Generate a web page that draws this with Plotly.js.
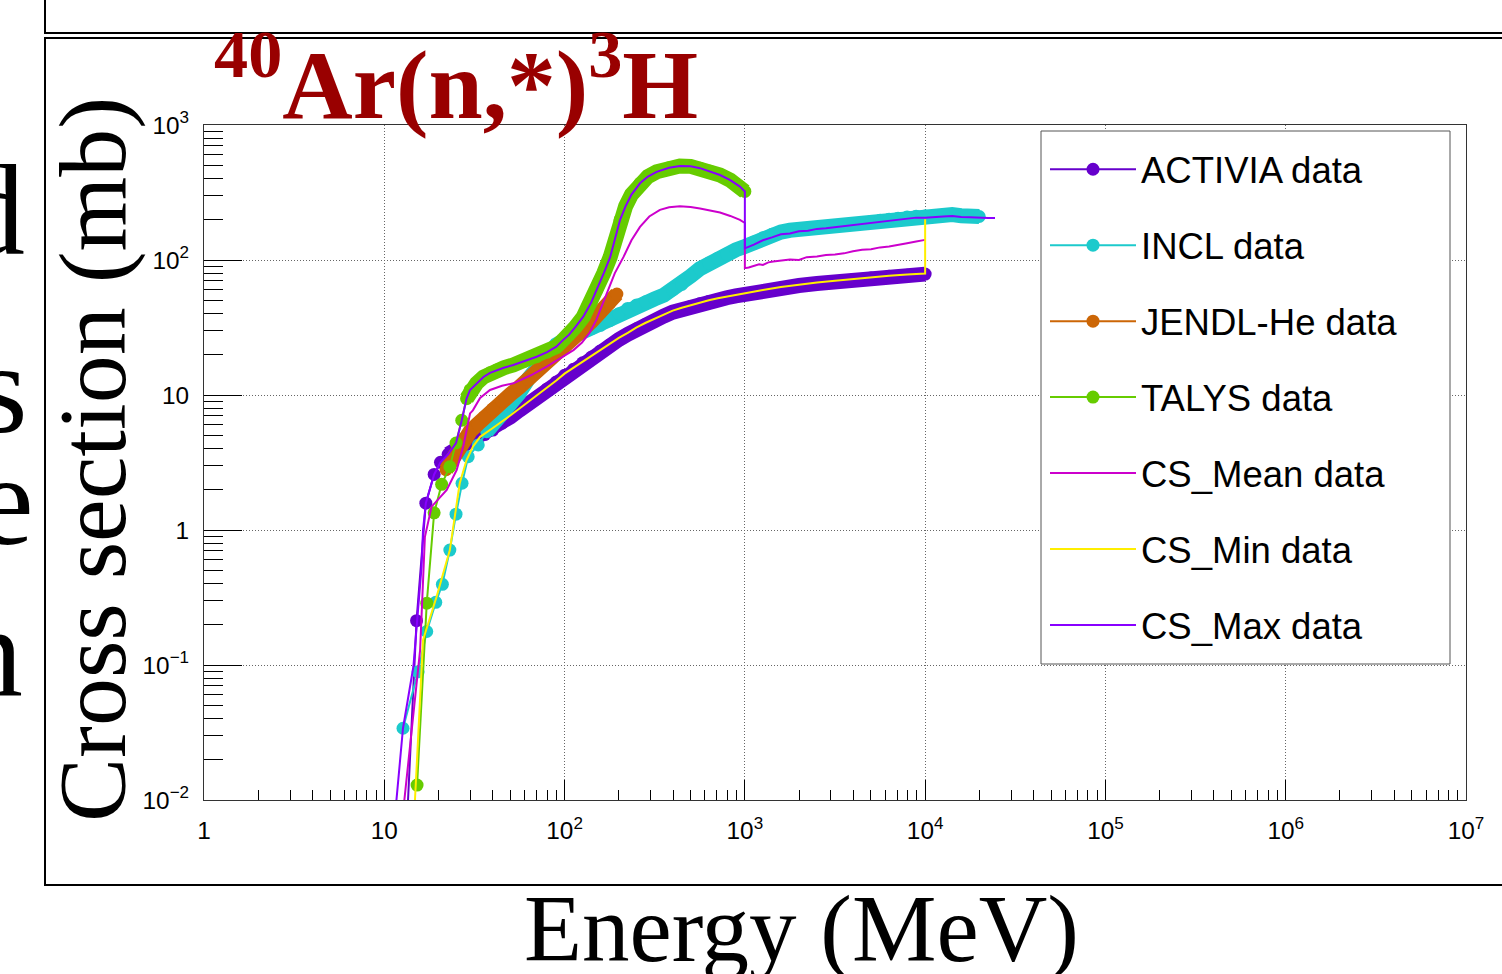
<!DOCTYPE html>
<html>
<head>
<meta charset="utf-8">
<script src="https://cdn.plot.ly/plotly-3.0.1.min.js"></script>
<style>
  html, body { margin: 0; padding: 0; background: #fff; }
  #chart { width: 1502px; height: 974px; }
</style>
</head>
<body>
<div id="chart"></div>
<script>
// ---------------- data ----------------
const activiaE  = [13.3, 15.1, 17.0, 18.9, 20.5, 22.6, 25, 28, 32, 36, 40, 45, 50, 56, 63, 71, 80, 90, 100, 112, 126, 141, 158, 178, 200, 224, 251, 282, 316, 355, 398, 447, 501, 562, 631, 708, 794, 891, 1000, 1259, 1585, 1995, 2512, 3162, 3981, 5012, 6310, 7943, 10000];
const activiaXS = [0.006, 0.213, 1.58, 2.58, 3.17, 3.64, 3.92, 4.25, 4.68, 5.09, 5.5, 6.19, 6.88, 7.7, 8.66, 9.76, 11.1, 12.5, 14.0, 15.5, 17.3, 19.1, 21.2, 23.5, 25.8, 28.2, 30.9, 33.4, 35.8, 38.4, 41.1, 43.2, 45.3, 47.4, 49.2, 50.9, 52.5, 54.2, 56.0, 58.9, 62.0, 64.7, 67.0, 69.4, 71.6, 73.6, 75.7, 77.2, 78.6];
const activiaDenseFrom = 5;

const inclE  = [12.7, 15.4, 17.2, 19.3, 21.0, 23.1, 25.0, 27.0, 29.2, 33.2, 37.0, 40, 45, 50, 56, 63, 71, 80, 90, 100, 112, 126, 141, 158, 178, 200, 224, 251, 282, 316, 355, 398, 447, 501, 562, 631, 708, 794, 891, 1000, 1122, 1259, 1413, 1585, 1778, 1995, 2239, 2512, 2818, 3162, 3548, 3981, 4467, 5012, 5623, 6310, 7079, 7943, 8913, 10000, 11220, 12589, 14125, 15849, 17783, 19953];
const inclXS = [0.034, 0.089, 0.177, 0.291, 0.396, 0.71, 1.31, 2.22, 3.49, 4.27, 5.35, 6.0, 7.1, 8.4, 10.3, 13.2, 16.5, 20.5, 23.5, 25.5, 27.5, 29.3, 31.0, 32.8, 35.5, 40.0, 43.8, 46.5, 49.0, 51.5, 55.0, 60.0, 66.0, 76.0, 86.0, 95.0, 103, 111, 119, 126, 136, 146, 155, 161, 166, 169, 171, 174, 177, 180, 183, 186, 189, 193, 197, 200, 204, 208, 211, 212, 213, 215, 217, 213, 211, 210];
const inclDenseFrom = 10;

const jendlE  = [22, 24, 26, 28, 30, 33, 36, 40, 45, 50, 56, 63, 71, 80, 90, 100, 112, 126, 141, 158, 178, 195];
const jendlXS = [2.8, 3.4, 4.1, 4.8, 5.4, 6.1, 6.9, 7.9, 9.0, 10.1, 11.4, 13.0, 15.0, 17.6, 20.4, 23.0, 26.5, 30.5, 35.0, 40.5, 48.0, 56.0];
const jendlDenseFrom = 0;

const talysE  = [15.2, 17.2, 18.9, 20.8, 23.1, 25.0, 26.9, 28.6, 29.9, 32.5, 35.5, 38.6, 42, 46, 52, 60, 70, 80, 90, 98, 106, 115, 127, 140, 151, 165, 179, 190, 203, 218, 235, 262, 290, 324, 380, 436, 500, 564, 640, 728, 830, 939, 1000];
const talysXS = [0.0129, 0.287, 1.34, 2.18, 2.94, 4.41, 6.5, 9.4, 10.9, 12.2, 13.6, 14.6, 15.3, 15.9, 16.7, 17.8, 19.2, 20.8, 22.8, 25.5, 28, 32, 38, 48, 60, 80, 105, 140, 198, 250, 305, 370, 415, 450, 482, 497, 494, 479, 455, 426, 390, 350, 322];
const talysDenseFrom = 7;

const meanE  = [12.7, 15.8, 16.8, 18.3, 22.2, 25.2, 27.4, 29.9, 31, 34, 38.6, 45, 52, 65, 79.6, 95, 112, 125, 138, 150, 160, 171, 190, 212, 235, 262, 295, 338, 380, 436, 500, 564, 640, 728, 830, 939, 1000, 1000, 1050, 1122, 1200, 1259, 1350, 1438, 1585, 1778, 1995, 2203, 2512, 2818, 3162, 3548, 3981, 4467, 5012, 5623, 6310, 7079, 7943, 8913, 10000];
const meanXS = [0.008, 0.129, 0.89, 1.49, 1.98, 2.78, 4.14, 7.3, 7.7, 9.5, 10.9, 11.7, 12.2, 14.0, 16.2, 18.8, 21.5, 24.5, 29, 36, 45, 57, 80, 105, 140, 176, 210, 235, 246, 250, 247, 241, 233, 225, 212, 198, 188, 87, 88, 90, 93, 92, 96, 97.5, 99, 101, 100, 105, 106, 109, 110, 112, 116, 119, 120, 124, 126, 129, 133, 137, 141];

const minE  = [14.6, 16.4, 19.5, 23.1, 26.2, 28.6, 31, 34, 40, 45, 50, 56, 63, 71, 80, 90, 100, 112, 126, 141, 158, 178, 200, 224, 251, 282, 316, 355, 398, 447, 501, 562, 631, 708, 794, 891, 1000, 1259, 1585, 1995, 2512, 3162, 3981, 5012, 6310, 7943, 10000, 10000];
const minXS = [0.007, 0.153, 0.32, 0.71, 2.22, 3.3, 4.14, 4.9, 5.7, 6.35, 7.05, 7.9, 8.9, 10.0, 11.4, 12.8, 14.4, 15.9, 17.7, 19.6, 21.7, 24.1, 26.5, 28.9, 31.7, 34.3, 36.8, 39.4, 42.2, 44.3, 46.4, 48.5, 50.3, 52.0, 53.6, 55.3, 57.1, 60.0, 63.0, 65.7, 68.0, 70.3, 72.5, 74.5, 76.6, 78.1, 79.4, 200];

const maxE  = [11.4, 12.7, 14.5, 16.1, 16.4, 17.0, 18.9, 20.5, 22.6, 25.0, 26.9, 28.6, 29.9, 32.5, 35.5, 38.6, 42, 46, 52, 60, 70, 80, 90, 98, 106, 115, 127, 140, 151, 165, 179, 190, 203, 218, 235, 262, 290, 324, 380, 436, 500, 564, 640, 728, 830, 939, 1000, 1000, 1122, 1259, 1413, 1585, 1778, 1995, 2239, 2512, 2818, 3162, 3548, 3981, 4467, 5012, 5623, 6310, 7079, 7943, 8913, 10000, 11220, 12589, 14125, 15849, 17783, 19953, 22387, 24400];
const maxXS = [0.007, 0.034, 0.097, 0.535, 1.0, 1.58, 2.58, 3.17, 3.64, 4.41, 6.5, 9.4, 10.9, 12.2, 13.6, 14.6, 15.3, 15.9, 16.7, 17.8, 19.2, 20.8, 22.8, 25.5, 28, 32, 38, 48, 60, 80, 105, 140, 198, 250, 305, 370, 415, 450, 482, 497, 494, 479, 455, 426, 390, 350, 322, 122, 130, 140, 147, 155, 157, 163, 165, 170, 172, 175, 179, 181, 185, 187, 192, 194, 199, 202, 206, 206, 209, 210, 212, 208, 207, 205, 205, 205];

const seriesNames = ['ACTIVIA data', 'INCL data', 'JENDL-He data', 'TALYS data', 'CS_Mean data', 'CS_Min data', 'CS_Max data'];
const titleText = '<b><sup>40</sup>Ar(n,*)<sup>3</sup>H</b>';
const xTitleText = 'Energy (MeV)';
const yTitleText = 'Cross section (mb)';
const edgeLetters = ['d', 's', 'e', 'n'];

// ---------------- styling ----------------
const colors = {
  activia: '#6600cc', incl: '#1ccacc', jendl: '#cc6606', talys: '#66cc00',
  mean: '#cc00cc', min: '#ffee00', max: '#8800ff'
};
const W = 1502, H = 974;
const M = { l: 204, r: 36, t: 125, b: 174 };
const PW = W - M.l - M.r, PH = H - M.t - M.b;
const px = x => (x - M.l) / PW;          // page pixel -> paper x
const py = y => (H - M.b - y) / PH;      // page pixel -> paper y

const MS = 13;   // marker size
const BAND = 15; // width of the dense-marker band
function band(E, XS, from, color) {
  return { x: E.slice(from), y: XS.slice(from), mode: 'lines', type: 'scatter',
           line: { color: color, width: BAND }, showlegend: false, hoverinfo: 'skip' };
}
function markerSeries(E, XS, name, color, grp) {
  return { x: E, y: XS, name: name, mode: 'lines+markers', type: 'scatter', legendgroup: grp,
           line: { color: color, width: 2 }, marker: { color: color, size: MS } };
}
function lineSeries(E, XS, name, color, grp) {
  return { x: E, y: XS, name: name, mode: 'lines', type: 'scatter', legendgroup: grp,
           line: { color: color, width: 2 } };
}

const traces = [
  band(activiaE, activiaXS, activiaDenseFrom, colors.activia),
  markerSeries(activiaE, activiaXS, seriesNames[0], colors.activia, 'g1'),
  band(inclE, inclXS, inclDenseFrom, colors.incl),
  markerSeries(inclE, inclXS, seriesNames[1], colors.incl, 'g2'),
  band(jendlE, jendlXS, jendlDenseFrom, colors.jendl),
  markerSeries(jendlE, jendlXS, seriesNames[2], colors.jendl, 'g3'),
  band(talysE, talysXS, talysDenseFrom, colors.talys),
  markerSeries(talysE, talysXS, seriesNames[3], colors.talys, 'g4'),
  lineSeries(meanE, meanXS, seriesNames[4], colors.mean, 'g5'),
  lineSeries(minE, minXS, seriesNames[5], colors.min, 'g6'),
  lineSeries(maxE, maxXS, seriesNames[6], colors.max, 'g7')
];

const tickFont = { family: 'Liberation Sans, Arial, sans-serif', size: 19.5, color: '#000' };
const serif = 'Liberation Serif, Times New Roman, serif';

const letterPos = [[27, 210], [30, 388], [36, 500], [25, 652]];
const letterAnn = edgeLetters.map((t, i) => ({
  text: t, xref: 'paper', yref: 'paper', x: px(letterPos[i][0]), y: py(letterPos[i][1]),
  xanchor: 'right', yanchor: 'middle', showarrow: false, height: 108, valign: 'middle',
  font: { family: serif, size: 130, color: '#000' }
}));

const layout = {
  width: W, height: H,
  margin: M,
  paper_bgcolor: '#fff', plot_bgcolor: '#fff',
  showlegend: true,
  font: { family: 'Liberation Sans, Arial, sans-serif', color: '#000' },
  xaxis: {
    type: 'log', range: [0, 7], dtick: 1, exponentformat: 'power',
    ticks: 'inside', ticklen: 20, tickwidth: 1, tickcolor: '#000',
    minor: { ticks: 'inside', ticklen: 10, tickwidth: 1, tickcolor: '#000', dtick: 'D1', showgrid: false },
    showgrid: true, gridcolor: '#666', griddash: '1px,2px', gridwidth: 1,
    showline: true, linecolor: '#333', linewidth: 1, mirror: true, zeroline: false,
    tickfont: tickFont, ticklabelstandoff: 10, fixedrange: true
  },
  yaxis: {
    type: 'log', range: [-2, 3], dtick: 1, exponentformat: 'power',
    ticks: 'inside', ticklen: 38, tickwidth: 1, tickcolor: '#000',
    minor: { ticks: 'inside', ticklen: 19, tickwidth: 1, tickcolor: '#000', dtick: 'D1', showgrid: false },
    showgrid: true, gridcolor: '#666', griddash: '1px,2px', gridwidth: 1,
    showline: true, linecolor: '#333', linewidth: 1, mirror: true, zeroline: false,
    tickfont: tickFont, ticklabelstandoff: 10, fixedrange: true
  },
  legend: {
    x: px(1045), y: py(139), xanchor: 'left', yanchor: 'top',
    bgcolor: 'rgba(0,0,0,0)', borderwidth: 0,
    font: { family: 'Liberation Sans, Arial, sans-serif', size: 36.5, color: '#000' },
    itemwidth: 86, tracegroupgap: 25.5
  },
  shapes: [
    // legend box
    { type: 'rect', xref: 'paper', yref: 'paper', x0: px(1041), x1: px(1450), y0: py(664), y1: py(131),
      line: { color: '#555', width: 1 }, fillcolor: '#fff', layer: 'above' },
    // slide frames
    { type: 'rect', xref: 'paper', yref: 'paper', x0: px(45), x1: px(1520), y0: py(885), y1: py(38),
      line: { color: '#000', width: 2 }, fillcolor: 'rgba(0,0,0,0)', layer: 'above' },
    { type: 'rect', xref: 'paper', yref: 'paper', x0: px(45), x1: px(1520), y0: py(33), y1: py(-20),
      line: { color: '#000', width: 2 }, fillcolor: 'rgba(0,0,0,0)', layer: 'above' }
  ],
  annotations: [
    { text: titleText, xref: 'paper', yref: 'paper', x: px(212), y: py(77), xanchor: 'left', yanchor: 'middle',
      showarrow: false, font: { family: serif, size: 97.5, color: '#990000' } },
    { text: yTitleText, xref: 'paper', yref: 'paper', x: px(92), y: py(460), xanchor: 'center', yanchor: 'middle',
      textangle: -90, showarrow: false, font: { family: serif, size: 96, color: '#000' } },
    { text: xTitleText, xref: 'paper', yref: 'paper', x: px(801), y: py(929), xanchor: 'center', yanchor: 'middle',
      showarrow: false, font: { family: serif, size: 95, color: '#000' } }
  ].concat(letterAnn)
};

Plotly.newPlot('chart', traces, layout, { staticPlot: true, displayModeBar: false });
</script>
</body>
</html>
